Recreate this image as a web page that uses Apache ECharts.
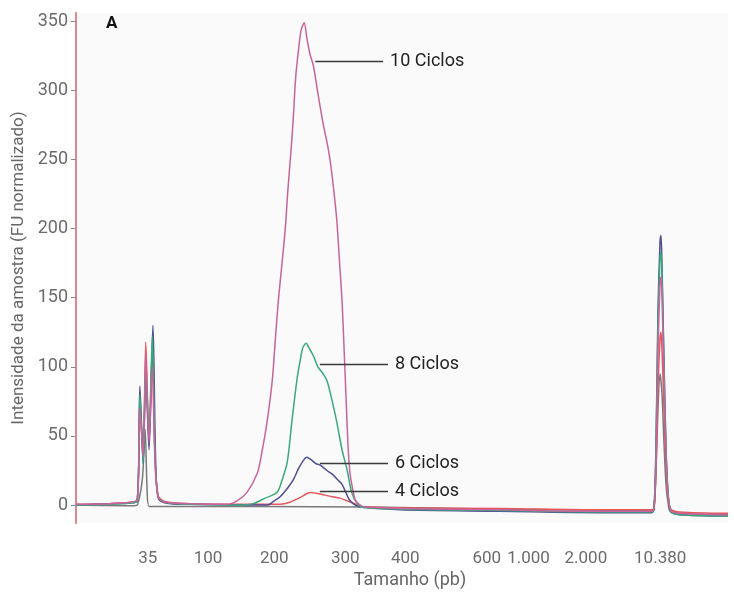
<!DOCTYPE html>
<html>
<head>
<meta charset="utf-8">
<script src="https://cdn.jsdelivr.net/npm/echarts@6/dist/echarts.min.js"></script>
<style>
  html, body { margin: 0; padding: 0; background: #fff; }
  #chart { width: 734px; height: 595px; }
</style>
</head>
<body>
<div id="chart"></div>
<script>
// x = relative migration position (0..100), y = FU normalizado
const tickPos = [11.0, 20.25, 30.4, 41.3, 50.5, 63.0, 69.4, 78.2, 89.6]
const tickLabels = ['35', '100', '200', '300', '400', '600', '1.000', '2.000', '10.380']
const yTicks = [0, 50, 100, 150, 200, 250, 300, 350]

const ciclos10 = [
  [0, 0.5], [5.2, 1], [8.3, 2], [9.4, 4], [9.8, 70], [10.3, 35], [10.7, 110], [11.2, 45],
  [11.7, 100], [12.1, 35], [12.6, 6], [13.7, 2], [17.5, 1], [20.6, 0.5], [23.2, 0.5],
  [24.7, 3], [26.2, 9], [27.8, 23], [28.5, 38], [29.3, 60], [30.1, 90], [30.5, 115],
  [31.0, 146], [31.6, 175], [32.1, 200], [32.5, 228], [33.0, 258], [33.3, 278], [33.7, 310],
  [34.1, 328], [34.5, 343], [35.0, 349], [35.4, 338], [35.9, 326], [36.4, 318], [37.1, 298],
  [37.9, 276], [38.6, 260], [39.1, 245], [39.6, 225], [40.0, 206], [40.5, 170], [40.8, 148],
  [41.1, 115], [41.4, 80], [41.7, 45], [42.0, 24], [42.5, 10], [42.9, 3], [43.6, 0],
  [44.3, -1.5], [49.7, -2.5], [65.0, -3.5], [80.4, -4.5], [88.3, -4.5], [88.65, -3], [88.96, 30],
  [89.26, 110], [89.57, 160], [89.72, 165], [89.88, 150], [90.18, 90], [90.49, 35],
  [90.8, 8], [91.26, -4], [92.6, -6], [100, -7]
]
const ciclos8 = [
  [0, 0], [5.2, 0.5], [8.3, 1.5], [9.4, 3], [9.8, 80], [10.3, 30], [10.7, 100], [11.2, 50],
  [11.7, 122], [12.1, 40], [12.6, 6], [13.7, 2], [17.5, 0.5], [25.2, 0], [27.2, 1],
  [29.0, 5], [30.8, 9], [31.6, 18], [32.4, 31], [33.1, 60], [33.9, 91], [34.4, 105],
  [34.8, 114], [35.3, 117], [35.7, 114], [36.4, 108], [37.1, 100], [37.9, 95], [38.5, 90],
  [39.3, 75], [40.0, 60], [40.8, 40], [41.6, 25], [42.3, 9], [43.3, 0], [44.3, -2],
  [49.7, -3], [65.0, -4], [80.4, -5], [88.3, -5], [88.65, -3], [88.96, 40],
  [89.26, 130], [89.57, 178], [89.72, 183], [89.88, 165], [90.18, 100], [90.49, 40],
  [90.8, 9], [91.26, -5], [92.6, -7], [100, -8]
]
const ciclos6 = [
  [0, 0], [5.2, 1], [8.3, 1.5], [9.4, 3], [9.8, 86], [10.3, 30], [10.7, 95], [11.2, 40],
  [11.8, 130], [12.2, 35], [12.6, 5], [13.7, 1.5], [17.5, 0.5], [29.3, 0], [30.4, 3],
  [31.3, 6], [32.4, 12], [33.3, 18], [34.2, 27], [35.0, 33], [35.4, 34.5], [36.0, 33],
  [36.8, 30], [37.4, 29], [38.5, 25], [39.4, 22], [40.2, 18], [40.8, 15], [41.4, 9],
  [41.9, 4], [42.5, 1], [43.3, -1], [49.7, -3.5], [65.0, -4.5], [80.4, -5.5], [88.3, -5.5],
  [88.65, -3], [88.96, 45], [89.26, 140], [89.57, 190], [89.72, 195], [89.88, 172],
  [90.18, 105], [90.49, 42], [90.8, 10], [91.26, -5], [92.6, -7], [100, -8]
]
const ciclos4 = [
  [0, 0.5], [5.2, 1], [8.3, 2], [9.4, 4], [9.8, 75], [10.3, 35], [10.7, 118], [11.2, 45],
  [11.7, 112], [12.1, 38], [12.6, 7], [13.7, 2.5], [17.5, 1], [25.0, 0.5], [31.3, 0.5],
  [32.8, 2], [34.4, 5.5], [35.3, 8], [36.0, 9], [36.8, 8.5], [37.9, 7.5], [39.3, 6],
  [40.5, 5], [41.6, 3], [42.5, 1.5], [43.6, -1], [49.7, -2], [65.0, -2.5], [80.4, -3.5],
  [88.3, -3.5], [88.65, -2], [88.96, 25], [89.26, 85], [89.57, 120], [89.72, 125],
  [89.88, 112], [90.18, 70], [90.49, 28], [90.8, 6], [91.26, -3], [92.6, -5], [100, -6]
]
const branco = [
  [0, 0], [9.0, -0.5], [9.5, 1], [10.2, 20], [10.6, 55], [10.9, 12], [11.2, -1],
  [12.6, -1], [44.3, -1.5], [65.0, -3], [88.3, -4], [88.65, -3], [88.96, 25],
  [89.26, 70], [89.57, 95], [89.88, 80], [90.18, 45], [90.49, 15], [90.8, 2],
  [91.26, -5], [100, -7]
]

const chart = echarts.init(document.getElementById('chart'))

function lineSeries (name, data, color, label, labelY) {
  const s = {
    name: name,
    type: 'line',
    data: data,
    showSymbol: false,
    smooth: 0.3,
    silent: true,
    lineStyle: { color: color, width: 1.5 },
    z: 2
  }
  if (label) {
    s.markLine = {
      silent: true,
      symbol: 'none',
      lineStyle: { color: '#3a3a3a', width: 1.3, type: 'solid' },
      label: {
        show: true,
        position: 'end',
        distance: 7,
        formatter: label,
        color: '#222',
        fontSize: 18,
        fontFamily: 'Roboto'
      },
      data: [[{ coord: labelY[0] }, { coord: labelY[1] }]]
    }
  }
  return s
}

const option = {
  animation: false,
  backgroundColor: '#fff',
  textStyle: { fontFamily: 'Roboto' },
  grid: {
    left: 76,
    right: 6,
    top: 13,
    bottom: 72,
    show: true,
    backgroundColor: '#fafafa',
    borderWidth: 0
  },
  xAxis: {
    type: 'value',
    min: 0,
    max: 100,
    name: 'Tamanho (pb)',
    nameLocation: 'middle',
    nameGap: 45,
    nameTextStyle: { color: '#666', fontSize: 18, padding: [0, 0, 0, 16] },
    axisLine: { show: false },
    axisTick: { show: false },
    splitLine: { show: false },
    axisLabel: {
      customValues: tickPos,
      margin: 27,
      color: '#6b6b6b',
      fontSize: 17,
      formatter: function (v) {
        let best = 0
        tickPos.forEach(function (p, i) {
          if (Math.abs(p - v) < Math.abs(tickPos[best] - v)) best = i
        })
        return tickLabels[best]
      }
    }
  },
  yAxis: {
    type: 'value',
    min: -13,
    max: 356,
    name: 'Intensidade da amostra (FU normalizado)',
    nameLocation: 'middle',
    nameGap: 48,
    nameTextStyle: { color: '#666', fontSize: 17 },
    axisLine: { show: true, lineStyle: { color: '#e0868e', width: 2 } },
    axisTick: { show: true, length: 5, customValues: yTicks, lineStyle: { color: '#888' } },
    splitLine: { show: false },
    axisLabel: { customValues: yTicks, margin: 8, color: '#6b6b6b', fontSize: 18 }
  },
  graphic: [
    {
      type: 'text',
      left: 106,
      top: 15,
      style: { text: 'A', font: 'bold 17px Roboto', fill: '#111' }
    }
  ],
  series: [
    lineSeries('Branco', branco, '#7a7a7a'),
    lineSeries('4 Ciclos', ciclos4, '#e5575c', '4 Ciclos', [[37.4, 9.7], [47.85, 9.7]]),
    lineSeries('6 Ciclos', ciclos6, '#4f4f92', '6 Ciclos', [[37.4, 30], [47.85, 30]]),
    lineSeries('8 Ciclos', ciclos8, '#3aa97c', '8 Ciclos', [[37.4, 102], [47.85, 102]]),
    lineSeries('10 Ciclos', ciclos10, '#c8649c', '10 Ciclos', [[36.7, 321], [47.1, 321]])
  ]
}

chart.setOption(option)
</script>
</body>
</html>
